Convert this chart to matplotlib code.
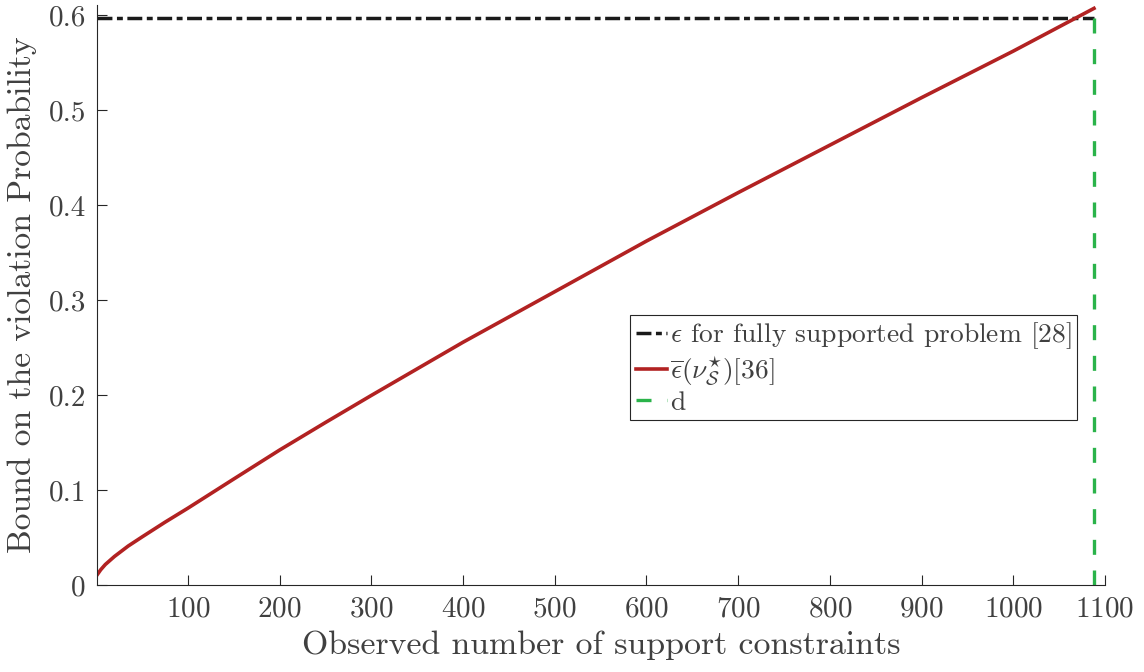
import matplotlib
matplotlib.use("Agg")
from matplotlib import pyplot as plt

# Bound on the violation probability vs. observed number of support constraints
n_support = [1, 5, 10, 20, 35, 50, 75, 100, 150, 200, 250, 300, 400, 500,
             600, 700, 800, 900, 1000, 1088]
eps_bar = [0.0105, 0.016, 0.0215, 0.030, 0.041, 0.0505, 0.066, 0.0808, 0.1115,
           0.142, 0.171, 0.1995, 0.2555, 0.3087, 0.362, 0.413, 0.463, 0.513,
           0.562, 0.607]

# epsilon for the fully supported problem, and the number of decision variables d
eps_full = 0.597
d = 1088

x_ticks = [100, 200, 300, 400, 500, 600, 700, 800, 900, 1000, 1100]
y_ticks = [0, 0.1, 0.2, 0.3, 0.4, 0.5, 0.6]
y_ticklabels = ["0", "0.1", "0.2", "0.3", "0.4", "0.5", "0.6"]

plt.rcParams["font.family"] = "cmr10"
plt.rcParams["mathtext.fontset"] = "cm"
plt.rcParams["axes.formatter.use_mathtext"] = True

text_color = "#404040"
axis_color = "#262626"

fig = plt.figure(figsize=(11.44, 6.72), dpi=100)
ax = fig.add_axes([0.0848, 0.1295, 0.8811, 0.863])

ax.plot([n_support[0], d], [eps_full, eps_full], color="#1a1a1a", lw=2.5,
        linestyle=(0, (4.3, 1.3, 1.7, 1.3)),
        label=r"$\epsilon$ for fully supported problem [28]")
ax.plot(n_support, eps_bar, color="#b22222", lw=2.6,
        label=r"$\overline{\epsilon}(\nu_{\mathcal{S}}^{\star})[36]$")
ax.plot([d, d], [0, eps_full], color="#2ab34a", lw=2.4,
        linestyle=(0, (4.5, 4.7)), label="d")

ax.set_xlim(1, 1100)
ax.set_ylim(0, 0.6105)
ax.set_xticks(x_ticks)
ax.set_yticks(y_ticks)
ax.set_yticklabels(y_ticklabels)

for side in ["top", "right"]:
    ax.spines[side].set_visible(False)
for side in ["left", "bottom"]:
    ax.spines[side].set_color(axis_color)
    ax.spines[side].set_linewidth(0.8)

ax.tick_params(direction="in", length=7, width=0.8, color=axis_color,
               labelsize=21, labelcolor=text_color, pad=8)

ax.set_xlabel("Observed number of support constraints", fontsize=24.4,
              color=text_color, labelpad=6)
ax.set_ylabel("Bound on the violation Probability", fontsize=24.2,
              color=text_color, labelpad=8)

leg = ax.legend(loc="upper left", bbox_to_anchor=(0.529, 0.4655),
                borderaxespad=0, fontsize=19.8, handlelength=1.15,
                handletextpad=0.1, borderpad=0.2, labelspacing=0.12,
                fancybox=False, framealpha=1, edgecolor=axis_color)
leg.get_frame().set_linewidth(0.8)
for t in leg.get_texts():
    t.set_color(text_color)

fig.savefig("out.png", dpi=100)
